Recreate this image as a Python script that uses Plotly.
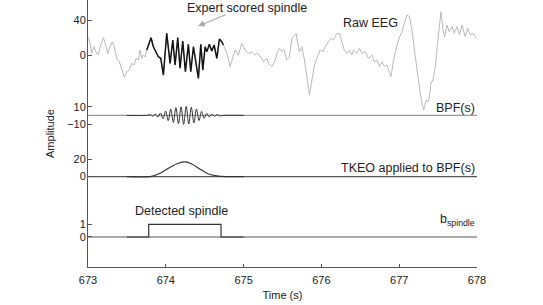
import plotly.graph_objects as go

# raw EEG (time in s, amplitude)
eeg_t = [673.004, 673.026, 673.048, 673.077, 673.112, 673.132, 673.163, 673.197, 673.228, 673.253,
         673.283, 673.313, 673.338, 673.369, 673.403, 673.434, 673.467, 673.498, 673.531, 673.562,
         673.592, 673.617, 673.647, 673.669, 673.691, 673.711, 673.733, 673.755, 673.810, 673.840,
         673.875, 673.904, 673.935, 673.969, 674.012, 674.055, 674.090, 674.119, 674.154, 674.183,
         674.218, 674.252, 674.290, 674.321, 674.355, 674.419, 674.450, 674.476, 674.505, 674.527,
         674.560, 674.591, 674.621, 674.656, 674.689, 674.720, 674.740, 674.792, 674.827, 674.891,
         674.933, 674.977, 675.020, 675.062, 675.106, 675.148, 675.178, 675.235, 675.255, 675.299,
         675.319, 675.363, 675.406, 675.427, 675.461, 675.492, 675.521, 675.556, 675.590, 675.620,
         675.641, 675.676, 675.692, 675.718, 675.749, 675.782, 675.813, 675.847, 675.878, 675.907,
         675.942, 675.984, 676.019, 676.049, 676.091, 676.122, 676.156, 676.199, 676.233, 676.264,
         676.293, 676.328, 676.361, 676.392, 676.413, 676.456, 676.490, 676.521, 676.563, 676.606,
         676.650, 676.679, 676.714, 676.747, 676.778, 676.812, 676.843, 676.876, 676.894, 676.928,
         676.971, 677.005, 677.036, 677.065, 677.100, 677.133, 677.164, 677.207, 677.249, 677.280,
         677.313, 677.348, 677.378, 677.409, 677.434, 677.464, 677.493, 677.519, 677.537, 677.563,
         677.584, 677.614, 677.644, 677.679, 677.708, 677.743, 677.776, 677.807, 677.850, 677.879,
         677.914, 677.949, 677.991]
eeg_v = [20.5, 13.6, 2.0, 9.6, 2.0, 0.0, 11.6, 20.1, 11.6, 2.0,
         9.6, 15.4, 9.6, -3.8, -7.8, -17.4, -25.9, -19.4, -17.4, -9.6,
         -11.6, -3.8, -5.8, 5.8, -3.8, 0.0, -2.0, 5.8, 20.1, 9.6,
         3.8, -2.0, -3.8, -23.2, 25.2, -9.6, 17.4, -11.6, 20.1, -15.4,
         16.2, -19.4, 12.4, -19.4, 9.6, -27.0, 12.4, -17.4, 9.6, 3.8,
         12.4, 4.6, 11.6, -3.8, 18.6, 15.4, 11.6, 0.0, -13.6, 5.8,
         0.0, 13.6, 5.8, 2.0, 3.8, 0.0, 2.0, -3.8, -7.8, -3.8,
         -9.6, -13.6, -5.8, 2.0, 7.8, 3.8, 5.8, -5.8, -2.0, 19.4,
         21.2, 25.2, 15.4, 3.8, 9.6, -5.8, -25.2, -46.4, -29.0, -13.6,
         -3.8, 5.8, 3.8, 9.6, 15.4, 19.4, 17.4, 25.2, 25.2, 13.6,
         5.8, 2.0, 5.8, 0.0, 5.8, 2.0, 7.8, 2.0, 3.8, -3.8,
         0.0, -7.8, -5.8, -13.6, -7.8, -13.6, -11.6, -21.2, -25.2, -5.8,
         11.6, 21.2, 27.0, 36.8, 46.4, 44.4, 29.0, -2.0, -32.8, -50.2,
         -63.8, -52.2, -54.1, -32.8, -29.0, -13.6, 13.6, 40.6, 50.2, 29.0,
         21.2, 34.8, 27.0, 32.8, 25.2, 32.8, 23.2, 34.8, 21.2, 31.0,
         23.2, 25.2, 19.4]
spindle_start, spindle_end = 673.755, 674.740

# band-pass filtered signal
bpf_t = [673.5, 673.75, 673.800, 673.833, 673.866, 673.899, 673.932, 673.965, 673.998, 674.031,
         674.064, 674.097, 674.130, 674.163, 674.196, 674.229, 674.262, 674.295, 674.328, 674.361,
         674.394, 674.427, 674.460, 674.493, 674.526, 674.559, 674.592, 674.625, 674.658, 674.691,
         674.75, 675.0]
bpf_v = [0, 0, 0.8, -1.0, 1.5, -2.0, 2.8, -3.8, 5.0, -6.2,
         7.2, -8.2, 9.0, -9.6, 10.0, -10.4, 10.4, -10.0, 9.4, -8.6,
         7.4, -6.0, 4.6, -3.4, 2.4, -1.8, 1.4, -1.0, 0.8, -0.5,
         0, 0]

# TKEO
tkeo_t = [673.5, 673.80, 673.926, 674.055, 674.162, 674.248, 674.334, 674.441, 674.548, 674.655, 674.784, 675.0]
tkeo_v = [0, 0, 3.9, 10.9, 15.5, 17.0, 14.7, 8.6, 3.1, 0.8, 0, 0]

# detection
b_t = [673.5, 673.78, 673.78, 674.71, 674.71, 675.0]
b_v = [0, 0, 1, 1, 0, 0]

off_bpf, off_tkeo, off_b = -70, -141, -211
b_scale = 14.7

font = "Liberation Sans, Arial, sans-serif"

fig = go.Figure()
fig.add_trace(go.Scatter(x=eeg_t, y=eeg_v, mode="lines", line=dict(color="#b9b9b9", width=1)))
sp = [(t, v) for t, v in zip(eeg_t, eeg_v) if spindle_start <= t <= spindle_end]
fig.add_trace(go.Scatter(x=[p[0] for p in sp], y=[p[1] for p in sp], mode="lines",
                         line=dict(color="#151515", width=1.5)))

fig.add_trace(go.Scatter(x=[673, 678], y=[off_bpf, off_bpf], mode="lines", line=dict(color="#9a9a9a", width=1.3)))
fig.add_trace(go.Scatter(x=bpf_t, y=[v + off_bpf for v in bpf_v], mode="lines",
                         line=dict(color="#333", width=1, shape="spline", smoothing=1)))

fig.add_trace(go.Scatter(x=[673, 678], y=[off_tkeo, off_tkeo], mode="lines", line=dict(color="#555", width=1.1)))
fig.add_trace(go.Scatter(x=tkeo_t, y=[v + off_tkeo for v in tkeo_v], mode="lines",
                         line=dict(color="#333", width=1.2, shape="spline", smoothing=0.8)))

fig.add_trace(go.Scatter(x=[673, 678], y=[off_b, off_b], mode="lines", line=dict(color="#555", width=1.1)))
fig.add_trace(go.Scatter(x=b_t, y=[v * b_scale + off_b for v in b_v], mode="lines",
                         line=dict(color="#333", width=1.2)))

ann = dict(showarrow=False, font=dict(family=font, size=12.5, color="#222"))
fig.add_annotation(x=675.045, y=54.5, text="Expert scored spindle", **ann)
fig.add_annotation(x=674.415, y=33.6, ax=674.788, ay=47.5, axref="x", ayref="y", text="",
                   showarrow=True, arrowhead=2, arrowsize=1.2, arrowwidth=1.1, arrowcolor="#aaa")
fig.add_annotation(x=676.63, y=37, text="Raw EEG", **ann)
fig.add_annotation(x=678, y=-61.4, text="BPF(s)", xanchor="right", **ann)
fig.add_annotation(x=678, y=-131, text="TKEO applied to BPF(s)", xanchor="right", **ann)
fig.add_annotation(x=678, y=-191, text="b<sub>spindle</sub>", xanchor="right", **ann)
fig.add_annotation(x=674.196, y=-180.8, text="Detected spindle", **ann)

fig.update_layout(
    width=543, height=305,
    margin=dict(l=88, r=66, t=0, b=38),
    paper_bgcolor="white", plot_bgcolor="white",
    showlegend=False,
    font=dict(family=font, size=11, color="#222"),
    xaxis=dict(range=[673, 678], tickvals=[673, 674, 675, 676, 677, 678], automargin=False,
               showgrid=False, zeroline=False, showline=True, linecolor="#555", linewidth=1,
               ticks="inside", ticklen=3, tickcolor="#555", ticklabelstandoff=3,
               title=dict(text="Time (s)", standoff=6, font=dict(size=11))),
    yaxis=dict(range=[-245.8, 63.8], automargin=False,
               tickvals=[40, 0, off_bpf + 10, off_bpf - 10, off_tkeo + 20, off_tkeo, off_b + b_scale, off_b],
               ticktext=["40", "0", "10", "\u221210", "20", "0", "1", "0"],
               showgrid=False, zeroline=False, showline=True, linecolor="#555", linewidth=1,
               ticks="inside", ticklen=4, tickcolor="#555", ticklabelstandoff=-1,
               title=dict(text="Amplitude", standoff=10, font=dict(size=11))),
)

# page without the default body margin so the figure sits at the window corner
fig.write_html("out.html", config={"displayModeBar": False},
               post_script="document.body.style.margin='0';")
